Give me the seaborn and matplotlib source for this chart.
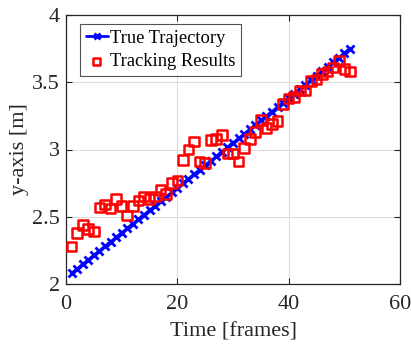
import matplotlib
matplotlib.use("Agg")
import matplotlib.pyplot as plt
from matplotlib.ticker import FuncFormatter
import numpy as np
import pandas as pd
import seaborn as sns

# Frame indices
frames = list(range(1, 52))

# Ground-truth y position per frame [m]
true_y = [2.080, 2.113, 2.147, 2.180, 2.214, 2.247, 2.280, 2.314, 2.347, 2.381,
          2.414, 2.447, 2.481, 2.514, 2.548, 2.581, 2.614, 2.648, 2.681, 2.715,
          2.748, 2.781, 2.815, 2.848, 2.882, 2.915, 2.948, 2.982, 3.015, 3.049,
          3.082, 3.115, 3.149, 3.182, 3.216, 3.249, 3.282, 3.316, 3.349, 3.383,
          3.416, 3.449, 3.483, 3.516, 3.550, 3.583, 3.616, 3.650, 3.683, 3.717,
          3.750]

# Tracker output per frame [m]
track_y = [2.28, 2.38, 2.44, 2.41, 2.39, 2.57, 2.59, 2.56, 2.63, 2.58,
           2.51, 2.58, 2.62, 2.65, 2.63, 2.65, 2.70, 2.67, 2.75, 2.77,
           2.92, 3.00, 3.06, 2.91, 2.90, 3.07, 3.08, 3.11, 2.97, 2.97,
           2.91, 3.01, 3.08, 3.13, 3.22, 3.16, 3.19, 3.21, 3.34, 3.38,
           3.39, 3.44, 3.44, 3.51, 3.52, 3.56, 3.58, 3.61, 3.66, 3.60,
           3.58]

x_ticks = [0, 20, 40, 60]
y_ticks = [2, 2.5, 3, 3.5, 4]

df = pd.DataFrame({"frame": frames, "true": true_y, "track": track_y})

sns.set_theme(style="white")
plt.rcParams["font.family"] = ["Liberation Serif", "DejaVu Serif"]
plt.rcParams["mathtext.fontset"] = "stix"

dark = "#262626"
fig = plt.figure(figsize=(4.11, 3.47), dpi=100)
ax = fig.add_axes([66 / 411, 1 - 284 / 347, 334 / 411, 269 / 347])

sns.lineplot(data=df, x="frame", y="true", ax=ax, color=(0, 0, 1),
             linewidth=2.0, marker="x", markersize=5.5, markeredgewidth=2.0,
             markeredgecolor=(0, 0, 1), label="True Trajectory", zorder=3)
sns.scatterplot(data=df, x="frame", y="track", ax=ax, marker="s", s=48,
                facecolors="none", edgecolors=(1, 0, 0), linewidths=1.8,
                label="Tracking Results", zorder=4)

ax.set_xlim(0, 60)
ax.set_ylim(2, 4)
ax.set_xticks(x_ticks)
ax.set_yticks(y_ticks)
ax.yaxis.set_major_formatter(FuncFormatter(lambda v, p: f"{v:g}"))
ax.grid(True, color="#dcdcdc", linewidth=0.8)
ax.set_axisbelow(True)
ax.tick_params(direction="in", length=4, width=0.8, color=dark,
               labelsize=16, labelcolor=dark, top=True, right=True,
               bottom=True, left=True)
ax.tick_params(axis="x", pad=8)
ax.tick_params(axis="y", pad=4.5)
for sp in ax.spines.values():
    sp.set_visible(True)
    sp.set_color(dark)
    sp.set_linewidth(0.9)

ax.set_xlabel("Time [frames]", fontsize=16, color=dark, labelpad=6)
ax.set_ylabel("y-axis [m]", fontsize=16, color=dark, labelpad=2)

leg = ax.legend(loc="upper left", bbox_to_anchor=((80 - 66) / 334, 1 - (24 - 15) / 269),
                borderaxespad=0, fontsize=13.3, frameon=True, fancybox=False,
                handlelength=1.2, handletextpad=0.15, borderpad=0.3,
                labelspacing=0.35, edgecolor=dark, markerscale=0.75)
leg.get_frame().set_linewidth(0.8)
for t in leg.get_texts():
    t.set_color("black")

fig.savefig("out.png", dpi=100)
